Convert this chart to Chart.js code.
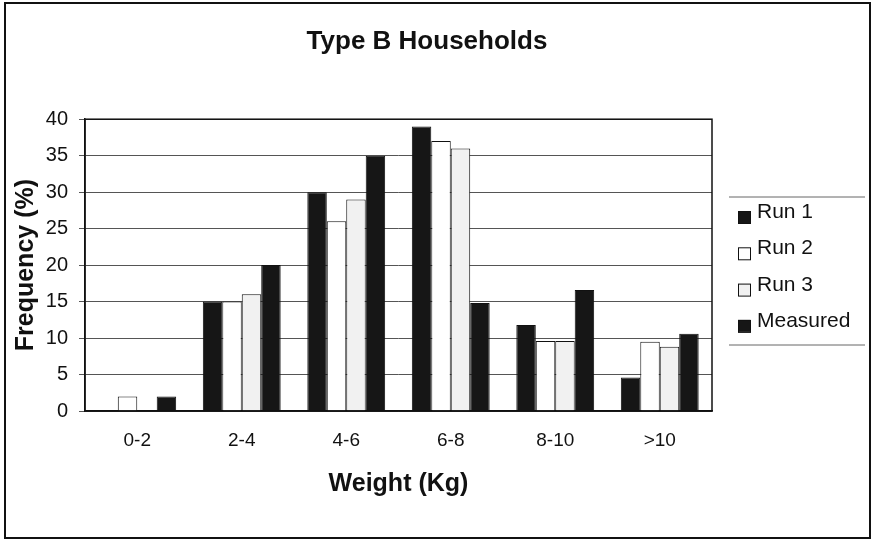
<!doctype html>
<html lang="en">
<head>
  <meta charset="utf-8">
  <title>Type B Households</title>
  <script src="https://cdn.jsdelivr.net/npm/chart.js@4.4.1/dist/chart.umd.min.js"></script>
  <style>
    body { margin: 0; background: #fff; }
    #wrap { width: 874px; height: 541px; }
  </style>
</head>
<body>
  <div id="wrap">
    <canvas id="myChart" width="874" height="541"></canvas>
  </div>
  <script>
    // data
    const categories = ['0-2', '2-4', '4-6', '6-8', '8-10', '>10'];
    const seriesNames = ['Run 1', 'Run 2', 'Run 3', 'Measured'];
    const run1 = [0, 15, 30, 39, 11.8, 4.6];
    const run2 = [2, 15, 26, 37, 9.6, 9.5];
    const run3 = [0, 16, 29, 36, 9.6, 8.8];
    const measured = [2, 20, 35, 14.8, 16.6, 10.6];
    const yMin = 0, yMax = 40, yStep = 5;

    const fills = ['#161616', '#ffffff', '#f1f1f1', '#161616'];
    const font = '"Liberation Sans", Arial, sans-serif';

    // white page, outer frame, plot frame and the legend box on the right
    const framePlugin = {
      id: 'framePlugin',
      beforeDraw(chart) {
        const ctx = chart.ctx;
        ctx.save();
        ctx.fillStyle = '#fff';
        ctx.fillRect(0, 0, chart.width, chart.height);
        ctx.restore();
      },
      afterDraw(chart) {
        const ctx = chart.ctx;
        const a = chart.chartArea;
        ctx.save();
        ctx.strokeStyle = '#111';
        ctx.lineWidth = 1.5;
        ctx.strokeRect(a.left, a.top, a.right - a.left, a.bottom - a.top);

        ctx.lineWidth = 2;
        ctx.strokeRect(5, 3, 865, 535);

        // legend
        const lx = a.right + 17;
        ctx.strokeStyle = '#666';
        ctx.lineWidth = 1;
        ctx.beginPath();
        ctx.moveTo(lx, 197); ctx.lineTo(lx + 136, 197);
        ctx.moveTo(lx, 345); ctx.lineTo(lx + 136, 345);
        ctx.stroke();

        ctx.font = '21px ' + font;
        ctx.textBaseline = 'alphabetic';
        ctx.textAlign = 'left';
        chart.data.datasets.forEach(function (ds, i) {
          const top = 211 + i * 36.3;
          ctx.fillStyle = ds.backgroundColor;
          ctx.fillRect(lx + 9, top, 12, 12);
          ctx.strokeStyle = '#111';
          ctx.strokeRect(lx + 9.5, top + 0.5, 12, 12);
          ctx.fillStyle = '#111';
          ctx.fillText(ds.label, lx + 28, top + 7);
        });
        ctx.restore();
      }
    };

    const datasets = [run1, run2, run3, measured].map(function (vals, i) {
      return {
        label: seriesNames[i],
        data: vals,
        backgroundColor: fills[i],
        borderColor: '#111',
        borderWidth: 1,
        barPercentage: 1,
        categoryPercentage: 0.745
      };
    });

    new Chart(document.getElementById('myChart'), {
      type: 'bar',
      data: { labels: categories, datasets: datasets },
      plugins: [framePlugin],
      options: {
        responsive: false,
        animation: false,
        layout: { padding: { left: 0, right: 20, top: 0, bottom: 0 } },
        plugins: {
          legend: { display: false },
          tooltip: { enabled: false },
          title: {
            display: true,
            text: 'Type B Households',
            color: '#111',
            font: { family: font, size: 26, weight: 'bold' },
            padding: { top: 26, bottom: 62 }
          }
        },
        scales: {
          x: {
            grid: { display: false, drawTicks: false },
            border: { display: true, color: '#111', width: 1.5 },
            ticks: { color: '#111', font: { family: font, size: 19 }, padding: 18 },
            title: {
              display: true,
              text: 'Weight (Kg)',
              color: '#111',
              font: { family: font, size: 25, weight: 'bold' },
              padding: { top: 0, bottom: 42 }
            },
            afterFit: function (s) { s.height = 130; }
          },
          y: {
            min: yMin,
            max: yMax,
            grid: { color: '#555', lineWidth: 1, tickLength: 6 },
            border: { display: true, color: '#111', width: 1.5 },
            ticks: { stepSize: yStep, color: '#111', font: { family: font, size: 20 }, padding: 11 },
            title: {
              display: true,
              text: 'Frequency (%)',
              color: '#111',
              font: { family: font, size: 25, weight: 'bold' },
              padding: { top: 11, bottom: 0 }
            },
            afterFit: function (s) { s.width = 85; }
          },
          // empty space on the right for the legend
          yRight: {
            type: 'linear',
            position: 'right',
            grid: { display: false, drawTicks: false },
            border: { display: false },
            ticks: { display: false },
            afterFit: function (s) { s.width = 142; }
          }
        }
      }
    });
  </script>
</body>
</html>
